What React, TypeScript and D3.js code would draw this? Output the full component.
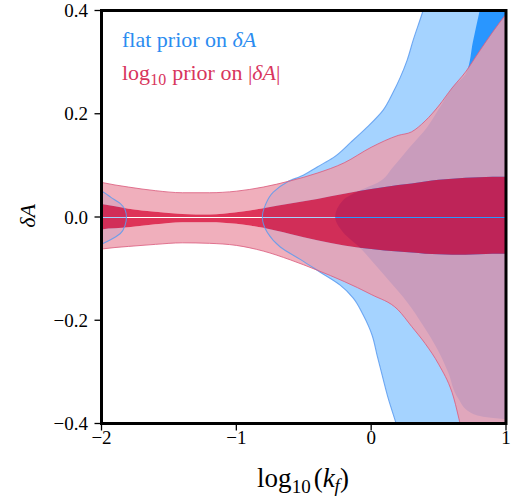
import React from 'react';
import * as d3 from 'd3';

const W = 518;
const H = 498;
const M = { left: 101.5, right: 506, top: 10.5, bottom: 423.5 };

const xTicks = [-2, -1, 0, 1];
const xTickLabels = ['−2', '−1', '0', '1'];
const yTicks = [-0.4, -0.2, 0.0, 0.2, 0.4];
const yTickLabels = ['−0.4', '−0.2', '0.0', '0.2', '0.4'];

// log10 prior on |dA| : shared log10(kf) grid
const logKf = [-2.05, -2.0, -1.8, -1.6, -1.4, -1.2, -1.0, -0.8, -0.6, -0.4, -0.2, 0.0, 0.2, 0.3, 0.4, 0.5, 0.6, 0.7, 0.8, 0.9, 1.0, 1.05];
const log95Upper = [0.070, 0.067, 0.058, 0.051, 0.047, 0.047, 0.050, 0.058, 0.070, 0.085, 0.105, 0.135, 0.158, 0.165, 0.186, 0.215, 0.250, 0.281, 0.320, 0.358, 0.393, 0.410];
const log95Lower = [-0.064, -0.062, -0.057, -0.053, -0.050, -0.051, -0.055, -0.066, -0.083, -0.103, -0.125, -0.150, -0.180, -0.212, -0.245, -0.285, -0.340, -0.440, -0.500, -0.530, -0.550, -0.560];
const log68Upper = [0.027, 0.025, 0.016, 0.010, 0.006, 0.005, 0.009, 0.017, 0.026, 0.035, 0.045, 0.054, 0.062, 0.065, 0.069, 0.072, 0.074, 0.076, 0.077, 0.078, 0.078, 0.078];
const log68Lower = [-0.026, -0.024, -0.020, -0.014, -0.010, -0.010, -0.013, -0.021, -0.033, -0.045, -0.055, -0.062, -0.067, -0.069, -0.071, -0.072, -0.073, -0.073, -0.072, -0.071, -0.071, -0.071];

// flat prior on dA: 95% region, small lobe at the left edge (right boundary vs dA)
const lobeDA = [-0.066, -0.055, -0.045, -0.032, -0.016, 0.0, 0.014, 0.026, 0.038, 0.048, 0.058];
const lobeKf = [-2.10, -2.02, -1.94, -1.86, -1.825, -1.815, -1.825, -1.86, -1.93, -1.985, -2.07];

// flat prior on dA: 95% main region (left boundary vs dA)
const flat95DA = [-0.45, -0.40, -0.351, -0.306, -0.268, -0.229, -0.19, -0.157, -0.132, -0.107, -0.083, -0.058, -0.03, 0.0, 0.023, 0.048, 0.068, 0.081, 0.097, 0.115, 0.145, 0.174, 0.207, 0.24, 0.27, 0.304, 0.342, 0.40, 0.45];
const flat95Kf = [0.24, 0.185, 0.126, 0.081, 0.044, 0.007, -0.059, -0.133, -0.23, -0.378, -0.52, -0.674, -0.77, -0.807, -0.785, -0.726, -0.622, -0.504, -0.40, -0.281, -0.15, -0.03, 0.089, 0.16, 0.215, 0.267, 0.311, 0.385, 0.44];

// flat prior on dA: 68% region (left boundary vs dA)
const flat68DA = [-0.40, -0.392, -0.388, -0.378, -0.351, -0.30, -0.255, -0.21, -0.165, -0.126, -0.088, -0.06, -0.03, 0.0, 0.033, 0.052, 0.066, 0.097, 0.136, 0.174, 0.213, 0.252, 0.28, 0.34, 0.40, 0.45];
const flat68Kf = [1.2, 1.0, 0.859, 0.733, 0.645, 0.57, 0.489, 0.385, 0.267, 0.141, 0.015, -0.081, -0.207, -0.267, -0.207, -0.081, 0.044, 0.163, 0.289, 0.415, 0.511, 0.607, 0.707, 0.755, 0.805, 0.85];

const SERIF = '"Liberation Serif", "Times New Roman", serif';

export default function App() {
  const x = d3.scaleLinear().domain([-2, 1]).range([M.left, M.right]);
  const y = d3.scaleLinear().domain([-0.4, 0.4]).range([M.bottom, M.top]);
  const y0 = y(0);
  const gapTop = Math.floor(y0);
  const gapBot = gapTop + 1;

  const idx = logKf.map((_, i) => i);
  // area between two boundaries; pixel values are limited to one side of the zero-gap
  const halfBand = (lo: number[] | null, hi: number[] | null, upper: boolean) =>
    d3.area<number>()
      .x((i) => x(logKf[i]))
      .y0((i) => {
        const v = lo ? y(lo[i]) : upper ? gapTop : gapBot;
        return upper ? Math.min(v, gapTop) : Math.max(v, gapBot);
      })
      .y1((i) => {
        const v = hi ? y(hi[i]) : upper ? gapTop : gapBot;
        return upper ? Math.min(v, gapTop) : Math.max(v, gapBot);
      })
      .curve(d3.curveMonotoneX)(idx) as string;
  const bandLine = (v: number[]) =>
    d3.line<number>()
      .x((i) => x(logKf[i]))
      .y((i) => y(v[i]))
      .curve(d3.curveMonotoneX)(idx) as string;

  type P = { a: number; k: number };
  const pts = (da: number[], kf: number[]): P[] =>
    da.map((a, i) => ({ a, k: kf[i] })).sort((p, q) => y(p.a) - y(q.a));

  const rightRegion = (da: number[], kf: number[]) =>
    d3.area<P>()
      .y((p) => y(p.a))
      .x0((p) => x(p.k))
      .x1(() => x(1.3))
      .curve(d3.curveMonotoneY)(pts(da, kf)) as string;
  const leftRegion = (da: number[], kf: number[]) =>
    d3.area<P>()
      .y((p) => y(p.a))
      .x0(() => x(-2.3))
      .x1((p) => x(p.k))
      .curve(d3.curveMonotoneY)(pts(da, kf)) as string;
  const vLine = (da: number[], kf: number[]) =>
    d3.line<P>()
      .y((p) => y(p.a))
      .x((p) => x(p.k))
      .curve(d3.curveMonotoneY)(pts(da, kf)) as string;

  const pinkFill = 'rgb(237,158,173)';
  const pinkOp = 0.82;
  const crimFill = 'rgb(216,17,59)';
  const crimOp = 0.85;

  return (
    <svg width={W} height={H} style={{ position: 'absolute', left: 0, top: 0, background: '#fff' }} fontFamily={SERIF}>
      <defs>
        <clipPath id="plotclip">
          <rect x={M.left} y={M.top} width={M.right - M.left} height={M.bottom - M.top} />
        </clipPath>
      </defs>

      <g clipPath="url(#plotclip)">
        <path d={leftRegion(lobeDA, lobeKf)} fill="rgb(30,144,255)" fillOpacity={0.4} />
        <path d={rightRegion(flat95DA, flat95Kf)} fill="rgb(30,144,255)" fillOpacity={0.4} />
        <path d={rightRegion(flat68DA, flat68Kf)} fill="rgb(30,144,255)" fillOpacity={0.92} />

        <path d={halfBand(log68Upper, log95Upper, true)} fill={pinkFill} fillOpacity={pinkOp} />
        <path d={halfBand(log95Lower, log68Lower, false)} fill={pinkFill} fillOpacity={pinkOp} />
        <path d={halfBand(null, log68Upper, true)} fill={crimFill} fillOpacity={crimOp} />
        <path d={halfBand(log68Lower, null, false)} fill={crimFill} fillOpacity={crimOp} />

        <path d={vLine(lobeDA, lobeKf)} fill="none" stroke="#5b9bf0" strokeOpacity={0.85} strokeWidth={1.1} />
        <path d={vLine(flat95DA, flat95Kf)} fill="none" stroke="#5b9bf0" strokeOpacity={0.85} strokeWidth={1.1} />
        <path d={bandLine(log95Upper)} fill="none" stroke="#dc5f80" strokeOpacity={0.85} strokeWidth={1} />
        <path d={bandLine(log95Lower)} fill="none" stroke="#dc5f80" strokeOpacity={0.85} strokeWidth={1} />
      </g>

      <rect x={M.left} y={M.top} width={M.right - M.left} height={M.bottom - M.top} fill="none" stroke="#000" strokeWidth={3} />

      {xTicks.map((t, i) => (
        <g key={'x' + i}>
          <line x1={x(t)} x2={x(t)} y1={M.bottom + 1.5} y2={M.bottom + 7} stroke="#000" strokeWidth={1.3} />
          <text x={x(t)} y={444} textAnchor="middle" fontSize={19}>{xTickLabels[i]}</text>
        </g>
      ))}
      {yTicks.map((t, i) => (
        <g key={'y' + i}>
          <line x1={M.left - 1.5} x2={M.left - 7} y1={y(t)} y2={y(t)} stroke="#000" strokeWidth={1.3} />
          <text x={88} y={y(t) + 6.5} textAnchor="end" fontSize={19}>{yTickLabels[i]}</text>
        </g>
      ))}

      <text x={303} y={487} textAnchor="middle" fontSize={27}>
        log<tspan fontSize={19} dy={6}>10</tspan>
        <tspan dy={-6} dx={3}>(</tspan>
        <tspan fontStyle="italic">k</tspan>
        <tspan fontStyle="italic" fontSize={19} dy={5}>f</tspan>
        <tspan dy={-5}>)</tspan>
      </text>
      <text transform={`translate(35,216) rotate(-90)`} textAnchor="middle" fontSize={22} fontStyle="italic">δA</text>

      <text x={122} y={47} fontSize={22} fill="#2b8cf0">
        flat prior on <tspan fontStyle="italic">δA</tspan>
      </text>
      <text x={122} y={80} fontSize={22} fill="#d8355d">
        log<tspan fontSize={16} dy={5}>10</tspan>
        <tspan dy={-5} dx={6}>prior on |</tspan>
        <tspan fontStyle="italic">δA</tspan>|
      </text>
    </svg>
  );
}
